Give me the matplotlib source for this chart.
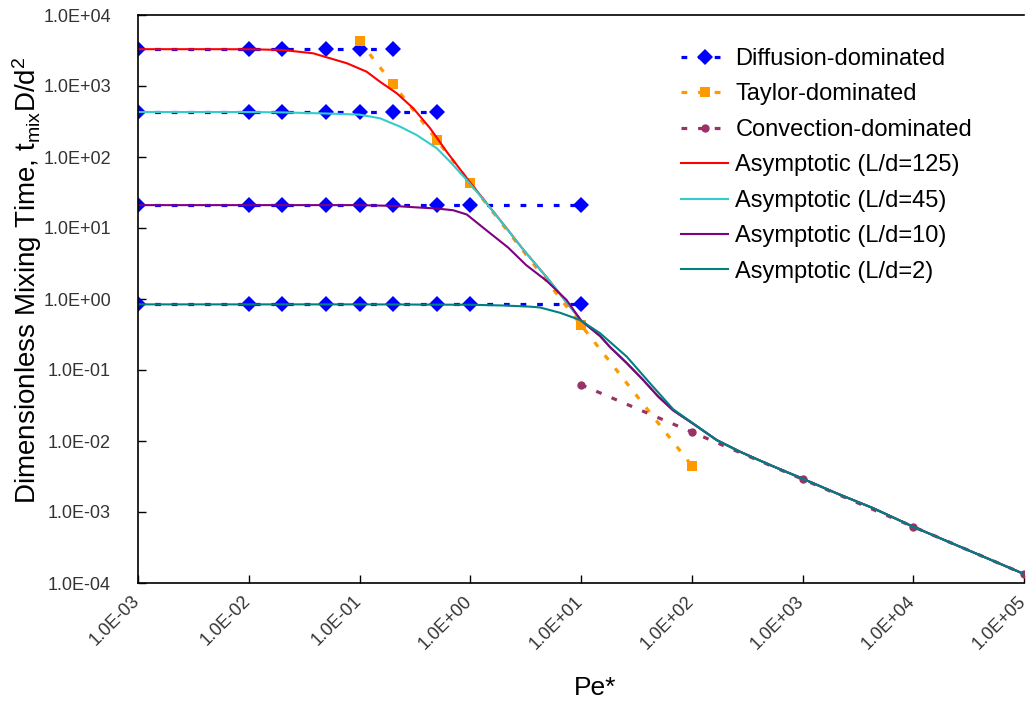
import matplotlib
matplotlib.use("Agg")
import matplotlib.pyplot as plt
from matplotlib.ticker import NullLocator, FixedLocator, FixedFormatter
from matplotlib.transforms import ScaledTranslation

plt.rcParams['font.family'] = ['Liberation Sans', 'DejaVu Sans']
plt.rcParams['mathtext.fontset'] = 'custom'
plt.rcParams['mathtext.rm'] = 'Liberation Sans'
plt.rcParams['mathtext.it'] = 'Liberation Sans:italic'

# ---------------- data ----------------
# Diffusion-dominated (one plateau per L/d)
diff_pe_125 = [0.001, 0.01, 0.02, 0.05, 0.1, 0.2]
diff_t_125 = [3300, 3300, 3300, 3300, 3300, 3300]
diff_pe_45 = [0.001, 0.01, 0.02, 0.05, 0.1, 0.2, 0.5]
diff_t_45 = [430, 430, 430, 430, 430, 430, 430]
diff_pe_10 = [0.001, 0.01, 0.02, 0.05, 0.1, 0.2, 0.5, 1.0, 10.0]
diff_t_10 = [21, 21, 21, 21, 21, 21, 21, 21, 21]
diff_pe_2 = [0.001, 0.01, 0.02, 0.05, 0.1, 0.2, 0.5, 1.0, 10.0]
diff_t_2 = [0.84, 0.84, 0.84, 0.84, 0.84, 0.84, 0.84, 0.84, 0.84]

# Taylor-dominated
taylor_pe = [0.1, 0.2, 0.5, 1.0, 10.0, 100.0]
taylor_t = [4300, 1075, 172, 43, 0.43, 0.0045]

# Convection-dominated
conv_pe = [10.0, 100.0, 1000.0, 10000.0, 100000.0]
conv_t = [0.062, 0.0134, 0.0029, 0.00062, 0.000134]

# Asymptotic curves
asym_pe_125 = [0.001, 0.005, 0.01, 0.02, 0.038, 0.077, 0.116, 0.153, 0.217, 0.306,
               0.434, 0.612, 1.0, 2.0, 3.0, 5.0, 7.0, 10.0, 14.9, 18.3, 25.9, 36.5,
               50.0, 68.0, 103.0, 168.0, 273.0, 509.0, 1016.0, 2037.0, 4357.0,
               10000.0, 100000.0]
asym_t_125 = [3300, 3300, 3290, 3220, 2890, 2090, 1590, 1150, 790, 485,
              254, 119, 43.5, 11.2, 5.0, 1.95, 1.0, 0.5, 0.3, 0.21, 0.125, 0.072,
              0.042, 0.027, 0.0175, 0.0103, 0.00706, 0.00459, 0.00292, 0.00183, 0.00113,
              0.00062, 0.000134]

asym_pe_45 = [0.001, 0.01, 0.02, 0.05, 0.1, 0.153, 0.232, 0.328, 0.498, 0.656,
              0.93, 1.41, 2.0, 3.0, 5.0, 7.0, 10.0, 14.9, 18.3, 25.9, 36.5,
              50.0, 68.0, 103.0, 168.0, 273.0, 509.0, 1016.0, 2037.0, 4357.0,
              10000.0, 100000.0]
asym_t_45 = [430, 430, 425, 410, 395, 351, 268, 204, 133, 86,
             47.4, 22.0, 11.1, 5.0, 1.95, 1.0, 0.5, 0.3, 0.21, 0.125, 0.072,
             0.042, 0.027, 0.0175, 0.0103, 0.00706, 0.00459, 0.00292, 0.00183, 0.00113,
             0.00062, 0.000134]

asym_pe_10 = [0.001, 0.01, 0.1, 0.2, 0.33, 0.5, 0.7, 0.93, 1.41, 2.2, 3.2, 4.9,
              7.4, 10.0, 14.9, 18.3, 25.9, 36.5, 50.0, 68.0, 103.0, 168.0, 273.0,
              509.0, 1016.0, 2037.0, 4357.0, 10000.0, 100000.0]
asym_t_10 = [21, 21, 21, 20.5, 19.5, 18.8, 17.8, 15.5, 9.2, 5.3, 3.0, 1.8,
             0.97, 0.5, 0.3, 0.21, 0.125, 0.072, 0.042, 0.027, 0.0175, 0.0103, 0.00706,
             0.00459, 0.00292, 0.00183, 0.00113, 0.00062, 0.000134]

asym_pe_2 = [0.001, 0.01, 0.1, 1.0, 2.0, 3.47, 4.26, 6.46, 9.8, 14.9, 25.9, 42.0,
             68.0, 103.0, 168.0, 273.0, 509.0, 1016.0, 2037.0, 4357.0, 10000.0,
             100000.0]
asym_t_2 = [0.84, 0.84, 0.84, 0.83, 0.81, 0.78, 0.76, 0.64, 0.506, 0.329, 0.154, 0.065,
            0.028, 0.0177, 0.0103, 0.00706, 0.00459, 0.00292, 0.00183, 0.00113, 0.00062,
            0.000134]

xtick_vals = [1e-3, 1e-2, 1e-1, 1e0, 1e1, 1e2, 1e3, 1e4, 1e5]
ytick_vals = [1e-4, 1e-3, 1e-2, 1e-1, 1e0, 1e1, 1e2, 1e3, 1e4]
xtick_labels = ["1.0E-03", "1.0E-02", "1.0E-01", "1.0E+00", "1.0E+01",
                "1.0E+02", "1.0E+03", "1.0E+04", "1.0E+05"]
ytick_labels = ["1.0E-04", "1.0E-03", "1.0E-02", "1.0E-01", "1.0E+00",
                "1.0E+01", "1.0E+02", "1.0E+03", "1.0E+04"]

# ---------------- figure ----------------
W, H = 1028, 705
fig = plt.figure(figsize=(W / 100, H / 100), dpi=100)
ax = fig.add_axes([138 / W, 1 - 583 / H, (1024 - 138) / W, (583 - 15) / H])
ax.set_xscale('log')
ax.set_yscale('log')

BLUE = '#0000FF'
ORANGE = '#FF9900'
PLUM = '#993366'
dot = (0, (1.8, 3.4))
lw_d = 2.3

first = True
for pe, t in [(diff_pe_125, diff_t_125), (diff_pe_45, diff_t_45),
              (diff_pe_10, diff_t_10), (diff_pe_2, diff_t_2)]:
    ax.plot(pe, t, color=BLUE, linestyle=dot, lw=lw_d, marker='D', markersize=8,
            markeredgewidth=0, label='Diffusion-dominated' if first else None)
    first = False

ax.plot(taylor_pe, taylor_t, color=ORANGE, linestyle=dot, lw=lw_d, marker='s',
        markersize=7, markeredgewidth=0, label='Taylor-dominated')
ax.plot(conv_pe, conv_t, color=PLUM, linestyle=dot, lw=lw_d, marker='o',
        markersize=6, markeredgewidth=0, label='Convection-dominated')

ax.plot(asym_pe_125, asym_t_125, color='#FF0000', lw=1.5, label='Asymptotic (L/d=125)')
ax.plot(asym_pe_45, asym_t_45, color='#33CCCC', lw=1.5, label='Asymptotic (L/d=45)')
ax.plot(asym_pe_10, asym_t_10, color='#800080', lw=1.5, label='Asymptotic (L/d=10)')
ax.plot(asym_pe_2, asym_t_2, color='#008080', lw=1.5, label='Asymptotic (L/d=2)')

ax.set_xlim(1e-3, 1e5)
ax.set_ylim(1e-4, 1e4)

ax.xaxis.set_major_locator(FixedLocator(xtick_vals))
ax.xaxis.set_major_formatter(FixedFormatter(xtick_labels))
ax.yaxis.set_major_locator(FixedLocator(ytick_vals))
ax.yaxis.set_major_formatter(FixedFormatter(ytick_labels))
ax.xaxis.set_minor_locator(NullLocator())
ax.yaxis.set_minor_locator(NullLocator())

ax.tick_params(axis='both', direction='in', length=6, width=1, colors='#000000',
               labelcolor='#333333', labelsize=13)
ax.tick_params(axis='y', pad=19.5)
ax.tick_params(axis='x', pad=7)
shift = ScaledTranslation(-5 / 72, 0, fig.dpi_scale_trans)
for lab in ax.get_xticklabels():
    lab.set_rotation(45)
    lab.set_ha('right')
    lab.set_va('top')
    lab.set_rotation_mode('anchor')
    lab.set_transform(lab.get_transform() + shift)

for s in ['left', 'bottom', 'top']:
    ax.spines[s].set_color('#000000')
    ax.spines[s].set_linewidth(1.2)
ax.spines['right'].set_visible(False)

fig.text(27 / W, 1 - 280 / H,
         r"Dimensionless Mixing Time, t$_{\mathregular{mix}}$D/d$^{\mathregular{2}}$",
         rotation=90, ha='center', va='center', fontsize=20)
fig.text(595 / W, 1 - 688 / H, "Pe*", ha='center', va='center', fontsize=19)

leg = ax.legend(loc='upper left', bbox_to_anchor=(681 / W, 1 - 48 / H),
                bbox_transform=fig.transFigure, frameon=False, fontsize=17,
                handlelength=2.0, handletextpad=0.3, labelspacing=0.57,
                borderpad=0, borderaxespad=0, numpoints=1)

fig.savefig('out.png', dpi=100)
